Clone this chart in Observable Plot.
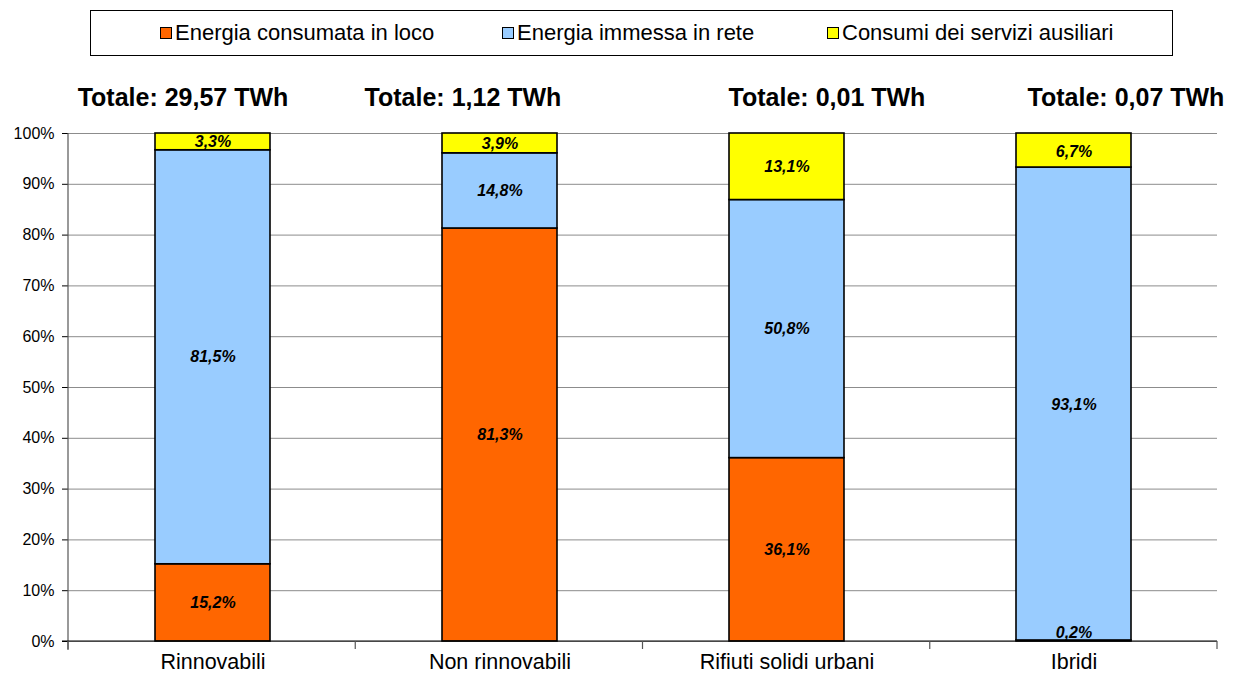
<!DOCTYPE html>
<html><head><meta charset="utf-8">
<script src="https://cdn.jsdelivr.net/npm/d3@7"></script>
<script src="https://cdn.jsdelivr.net/npm/@observablehq/plot@0.6"></script>
<style>
body{margin:0;background:#fff;font-family:"Liberation Sans",Arial,sans-serif;}
#wrap{position:relative;width:1233px;height:676px;overflow:hidden;}
#legend{position:absolute;left:90px;top:10px;width:1083px;height:46px;border:1px solid #000;box-sizing:border-box;}
.item{position:absolute;top:0;height:44px;display:flex;align-items:center;font-size:22px;color:#000;white-space:nowrap;}
.sw{width:10px;height:10px;border:1px solid #000;margin-right:3px;}
#chart{position:absolute;left:0;top:62px;}
</style>
</head><body>
<div id="wrap"><div id="legend"></div><div id="chart"></div></div>
<script>
const categories = ["Rinnovabili", "Non rinnovabili", "Rifiuti solidi urbani", "Ibridi"];
const totals = ["Totale: 29,57 TWh", "Totale: 1,12 TWh", "Totale: 0,01 TWh", "Totale: 0,07 TWh"];
const series = ["Energia consumata in loco", "Energia immessa in rete", "Consumi dei servizi ausiliari"];
const loco = [15.2, 81.3, 36.1, 0.2];
const rete = [81.5, 14.8, 50.8, 93.1];
const ausiliari = [3.3, 3.9, 13.1, 6.7];
const yTicks = [0, 10, 20, 30, 40, 50, 60, 70, 80, 90, 100];
const colors = ["#FF6600", "#99CCFF", "#FFFF00"];

const seriesValues = [loco, rete, ausiliari];
const rows = [];
series.forEach((s, si) => categories.forEach((c, ci) => rows.push({cat: c, series: s, value: seriesValues[si][ci]})));
const fmt = v => v.toFixed(1).replace(".", ",") + "%";

// legend
const legendLefts = [69, 411, 736];
const legend = document.getElementById("legend");
series.forEach((s, i) => {
  const it = document.createElement("div");
  it.className = "item";
  it.style.left = legendLefts[i] + "px";
  const sw = document.createElement("div");
  sw.className = "sw";
  sw.style.background = colors[i];
  it.appendChild(sw);
  it.appendChild(document.createTextNode(s));
  legend.appendChild(it);
});

const totalDx = [-30, -37, 40, 52];

const axesMark = (index, scales, values, dims) => {
  const g = d3.create("svg:g");
  const x0 = dims.marginLeft, x1 = dims.width - dims.marginRight;
  const yb = scales.y(0), yt = scales.y(100);
  const step = (x1 - x0) / categories.length;
  g.append("line").attr("x1", x0).attr("x2", x0).attr("y1", yt).attr("y2", yb + 9)
    .attr("stroke", "#555").attr("stroke-width", 1.2);
  g.append("line").attr("x1", x0 - 6).attr("x2", x1).attr("y1", yb).attr("y2", yb)
    .attr("stroke", "#000").attr("stroke-width", 1.2);
  for (let i = 0; i <= categories.length; i++) {
    g.append("line").attr("x1", x0 + i * step).attr("x2", x0 + i * step)
      .attr("y1", yb).attr("y2", yb + 8).attr("stroke", "#555").attr("stroke-width", 1.2);
  }
  return g.node();
};

const labelOpts = {x: "cat", y: "value", z: "series", order: series, text: d => fmt(d.value),
  fontWeight: "bold", fontStyle: "italic", fontSize: 16, fill: "#000"};

const chart = Plot.plot({
  width: 1233,
  height: 614,
  marginLeft: 68,
  marginRight: 16,
  marginTop: 71,
  marginBottom: 35,
  style: {fontFamily: "'Liberation Sans', Arial, sans-serif", fontSize: "16px", color: "#000", background: "#fff", overflow: "visible"},
  x: {domain: categories, paddingInner: 0.6, paddingOuter: 0.3, axis: null},
  y: {domain: [0, 100], ticks: yTicks, tickFormat: d => d + "%", label: null, tickSize: 6, tickPadding: 8},
  color: {domain: series, range: colors},
  marks: [
    Plot.gridY(yTicks, {stroke: "#8c8c8c", strokeOpacity: 1, strokeWidth: 1}),
    Plot.barY(rows, Plot.stackY({x: "cat", y: "value", fill: "series", order: series, stroke: "#000", strokeWidth: 1.6})),
    Plot.text(rows, Plot.stackY({...labelOpts, filter: d => d.value >= 1})),
    Plot.text(rows, Plot.stackY({...labelOpts, filter: d => d.value < 1, dy: -8})),
    axesMark,
    Plot.text(categories, {x: d => d, y: () => 0, text: d => d, dy: 21, fontSize: 21.5, fill: "#000"}),
    ...categories.map((c, i) => Plot.text([c], {x: d => d, y: () => 100, text: () => totals[i],
      dx: totalDx[i], dy: -36, fontSize: 25, fontWeight: "bold", fill: "#000"}))
  ]
});
document.getElementById("chart").appendChild(chart);
</script>
</body></html>
